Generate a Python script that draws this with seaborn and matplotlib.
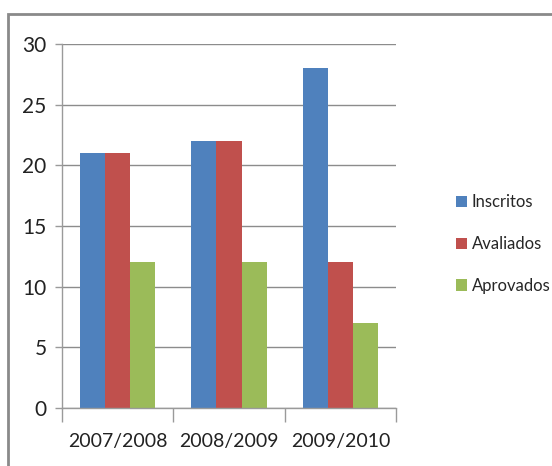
import matplotlib
matplotlib.use("Agg")
import matplotlib.pyplot as plt
from matplotlib.patches import Rectangle
import seaborn as sns
import pandas as pd

anos = ["2007/2008", "2008/2009", "2009/2010"]
inscritos = [21, 22, 28]
avaliados = [21, 22, 12]
aprovados = [12, 12, 7]
series = ["Inscritos", "Avaliados", "Aprovados"]
cores = ["#4F81BD", "#C0504D", "#9BBB59"]
y_ticks = [0, 5, 10, 15, 20, 25, 30]

df = pd.DataFrame({
    "ano": anos * 3,
    "serie": [s for s in series for _ in anos],
    "valor": inscritos + avaliados + aprovados,
})

sns.set_style("white")
plt.rcParams["font.family"] = ["Lato", "DejaVu Sans"]

W, H = 552, 466
fig = plt.figure(figsize=(W / 100, H / 100), dpi=100)
ax = fig.add_axes([62 / W, (H - 408) / H, (396 - 62) / W, (408 - 44) / H])

sns.barplot(data=df, x="ano", y="valor", hue="serie", hue_order=series,
            palette=cores, saturation=1, width=0.675, linewidth=0,
            ax=ax, legend=True)

ax.set_ylim(0, 30)
ax.set_xlim(-0.5, 2.5)
ax.set_yticks(y_ticks)
ax.set_yticklabels([str(v) for v in y_ticks], fontsize=15, color="#222222")
ax.set_xlabel("")
ax.set_ylabel("")
ax.yaxis.grid(True, color="#8c8c8c", linewidth=1)
ax.set_axisbelow(True)

for s in ["top", "right"]:
    ax.spines[s].set_visible(False)
for s in ["left", "bottom"]:
    ax.spines[s].set_color("#9a9a9a")
    ax.spines[s].set_linewidth(1)

ax.tick_params(axis="y", length=5, width=1, color="#9a9a9a", pad=6, left=True)
ax.tick_params(axis="x", which="major", length=0, pad=18, labelsize=14, labelcolor="#222222")
ax.set_xticks([-0.5, 0.5, 1.5, 2.5], minor=True)
ax.tick_params(axis="x", which="minor", length=10, width=1, color="#9a9a9a", bottom=True)

handles, labels = ax.get_legend_handles_labels()
ax.legend(handles, labels, loc="center left", bbox_to_anchor=(444 / W, (H - 244) / H),
          bbox_transform=fig.transFigure, frameon=False, fontsize=12,
          handlelength=0.65, handleheight=0.65, handletextpad=0.3, labelspacing=1.55,
          borderaxespad=0.3)

# outer chart frame
fig.patches.append(Rectangle((8 / W, -0.1), 1.2, (H - 14) / H + 0.1,
                             transform=fig.transFigure, fill=False,
                             edgecolor="#8a8a8a", linewidth=2, clip_on=False))

fig.savefig("out.png", dpi=100)
